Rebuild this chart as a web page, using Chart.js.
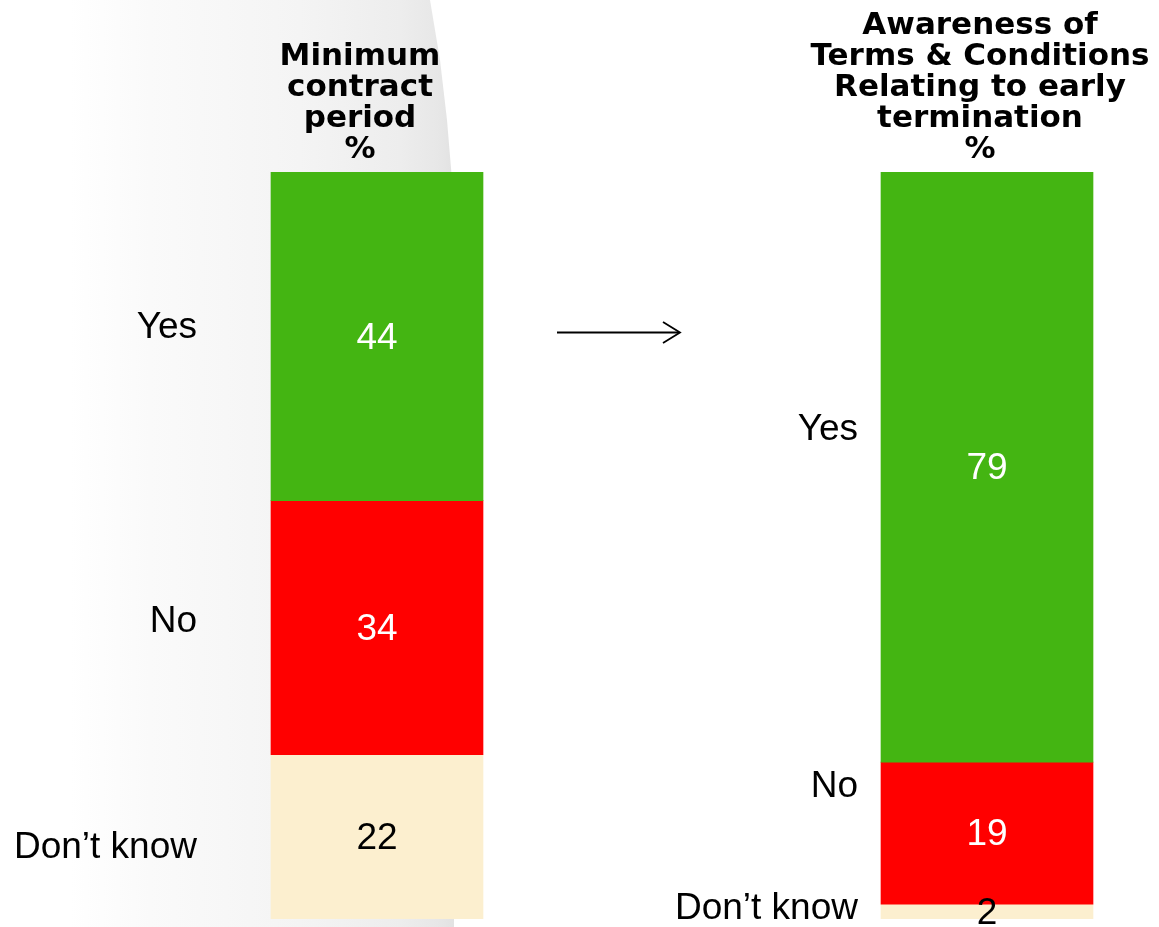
<!DOCTYPE html>
<html>
<head>
<meta charset="utf-8">
<script src="https://cdn.jsdelivr.net/npm/chart.js@4.4.1/dist/chart.umd.min.js"></script>
<style>
  html, body { margin:0; padding:0; background:#fff; overflow:hidden; }
  #wrap { position:relative; width:1159px; height:927px; }
  #shade { position:absolute; left:0; top:0; width:454px; height:927px;
    background: linear-gradient(to right, #ffffff 0px, #ffffff 70px, #fafafa 150px, #f4f4f4 300px, #ededed 400px, #e7e7e7 438px, #e2e2e2 454px);
    clip-path: polygon(0 0, 430px 0, 440px 60px, 447px 120px, 452px 180px, 454px 260px, 454px 927px, 0 927px); }
  canvas { position:absolute; top:0; }
  #c1 { left:0; }
  #c2 { left:640px; }
</style>
</head>
<body>
<div id="wrap">
  <div id="shade"></div>
  <canvas id="c1" width="700" height="927"></canvas>
  <canvas id="c2" width="519" height="927"></canvas>
</div>
<script>
// ---- data ----
const categories = ["Yes", "No", "Don\u2019t know"];
const titleMinContract = ["Minimum", "contract", "period", "%"];
const titleAwareness = ["Awareness of", "Terms & Conditions", "Relating to early", "termination", "%"];
const minContractValues = [44, 34, 22];
const awarenessValues = [79, 19, 2];
const segmentColors = ["#44B512", "#FF0000", "#FCEFCF"];
const valueTextColors = ["#FFFFFF", "#FFFFFF", "#000000"];

// ---- layout constants (pixels, local to each canvas) ----
const layoutLeft = { padLeft: 54, titleX: 360, labelRight: 197, labelY: [328, 622, 848], arrow: true };
const layoutRight = { padLeft: 175, titleX: 340, labelRight: 218, labelY: [430, 787, 909], arrow: false };

function makeChart(canvasId, values, titleLines, lay) {
  const datasets = categories.map((cat, i) => ({
    label: cat,
    data: [values[i]],
    backgroundColor: segmentColors[i],
    borderWidth: 0,
    barThickness: 212,
    stack: 's'
  }));
  const textPlugin = {
    id: 'texts',
    afterDatasetsDraw(chart) {
      const ctx = chart.ctx;
      ctx.save();
      // value labels at segment centres
      ctx.font = '37px "Liberation Sans", Arial, sans-serif';
      ctx.textAlign = 'center';
      ctx.textBaseline = 'middle';
      chart.data.datasets.forEach((ds, i) => {
        const el = chart.getDatasetMeta(i).data[0];
        ctx.fillStyle = valueTextColors[i];
        ctx.fillText(String(ds.data[0]), el.x, (el.y + el.base) / 2 + 2);
      });
      // category labels
      ctx.fillStyle = '#000';
      ctx.textAlign = 'right';
      ctx.font = '37px "Liberation Sans", Arial, sans-serif';
      categories.forEach((c, i) => ctx.fillText(c, lay.labelRight, lay.labelY[i]));
      // titles
      ctx.textAlign = 'center';
      ctx.font = 'bold 31px "DejaVu Sans", Verdana, sans-serif';
      const n = titleLines.length;
      titleLines.forEach((t, i) => {
        const y = 149.5 - (n - 1 - i) * 30.8;
        ctx.fillText(t, lay.titleX, y);
      });
      // arrow
      if (lay.arrow) {
        ctx.strokeStyle = '#000';
        ctx.lineWidth = 1.8;
        ctx.beginPath();
        ctx.moveTo(557, 332.5);
        ctx.lineTo(679, 332.5);
        ctx.stroke();
        ctx.beginPath();
        ctx.moveTo(663, 322);
        ctx.lineTo(680, 332.5);
        ctx.lineTo(663, 343);
        ctx.stroke();
      }
      ctx.restore();
    }
  };
  return new Chart(document.getElementById(canvasId), {
    type: 'bar',
    data: { labels: [''], datasets },
    options: {
      responsive: false,
      animation: false,
      layout: { padding: { top: 172, bottom: 8, left: lay.padLeft, right: 0 } },
      plugins: { legend: { display: false }, tooltip: { enabled: false }, title: { display: false } },
      scales: {
        x: { display: false, stacked: true },
        y: { display: false, stacked: true, min: 0, max: 100, reverse: true }
      }
    },
    plugins: [textPlugin]
  });
}

makeChart('c1', minContractValues, titleMinContract, layoutLeft);
makeChart('c2', awarenessValues, titleAwareness, layoutRight);
</script>
</body>
</html>
